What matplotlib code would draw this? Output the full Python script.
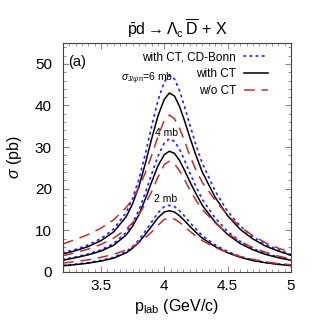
import matplotlib
matplotlib.use("Agg")
import matplotlib.pyplot as plt
from matplotlib.ticker import MultipleLocator

plt.rcParams['font.family'] = ['Liberation Sans', 'DejaVu Sans']
plt.rcParams['mathtext.fontset'] = 'custom'
plt.rcParams['mathtext.rm'] = 'Liberation Sans'
plt.rcParams['mathtext.it'] = 'Liberation Sans:italic'
plt.rcParams['mathtext.sf'] = 'Liberation Sans'

# beam momentum grid (GeV/c)
p_lab = [3.2, 3.3, 3.4, 3.5, 3.6, 3.7, 3.75, 3.8, 3.85, 3.9, 3.95, 4.0, 4.04,
         4.08, 4.12, 4.16, 4.2, 4.25, 4.3, 4.4, 4.5, 4.6, 4.7, 4.8, 4.9, 5.0]

# with CT (solid)
ct_6mb = [4.3, 5.1, 6.1, 7.5, 9.6, 13.3, 16.4, 20.6, 26.0, 32.0, 37.5, 41.5, 43.0,
          42.3, 39.8, 36.3, 32.5, 28.0, 24.0, 18.0, 13.5, 10.2, 7.9, 6.2, 5.0, 4.0]
ct_4mb = [2.8, 3.4, 4.1, 5.0, 6.4, 8.9, 11.0, 13.8, 17.5, 21.6, 25.5, 28.2, 29.0,
          28.5, 26.8, 24.4, 21.8, 18.8, 16.0, 12.0, 9.0, 6.8, 5.3, 4.2, 3.4, 2.8]
ct_2mb = [1.45, 1.75, 2.1, 2.6, 3.3, 4.6, 5.7, 7.1, 9.0, 11.0, 13.0, 14.4, 14.7,
          14.4, 13.5, 12.3, 11.0, 9.5, 8.1, 6.1, 4.6, 3.5, 2.7, 2.2, 1.8, 1.5]

# with CT, CD-Bonn (dotted)
bonn_6mb = [4.6, 5.4, 6.5, 8.0, 10.3, 14.3, 17.7, 22.3, 28.3, 35.0, 41.2, 45.7, 47.2,
            46.4, 43.6, 39.7, 35.5, 30.5, 26.1, 19.5, 14.5, 11.0, 8.4, 6.6, 5.3, 4.2]
bonn_4mb = [3.0, 3.6, 4.3, 5.3, 6.8, 9.5, 11.8, 14.9, 19.0, 23.5, 27.8, 31.0, 32.0,
            31.4, 29.5, 26.8, 23.9, 20.5, 17.4, 13.0, 9.7, 7.3, 5.6, 4.4, 3.6, 2.9]
bonn_2mb = [1.55, 1.85, 2.2, 2.75, 3.5, 4.9, 6.1, 7.7, 9.8, 12.0, 14.2, 15.7, 16.0,
            15.7, 14.7, 13.4, 11.9, 10.3, 8.7, 6.5, 4.9, 3.7, 2.8, 2.3, 1.9, 1.6]

# w/o CT (dashed)
noct_6mb = [6.7, 7.8, 9.0, 10.5, 12.5, 15.5, 17.5, 20.3, 23.8, 28.0, 32.5, 36.5, 37.7,
            36.8, 34.5, 31.5, 28.0, 24.5, 21.5, 17.3, 13.6, 10.8, 8.7, 7.0, 5.7, 4.7]
noct_4mb = [3.9, 4.6, 5.5, 6.6, 8.1, 10.3, 11.8, 13.8, 16.3, 19.3, 22.8, 25.8, 26.6,
            26.0, 24.3, 22.2, 19.8, 17.2, 15.0, 11.8, 9.2, 7.3, 5.8, 4.7, 3.8, 3.1]
noct_2mb = [2.1, 2.5, 2.9, 3.5, 4.2, 5.3, 6.0, 7.0, 8.2, 9.6, 11.2, 12.6, 13.0,
            12.7, 11.9, 10.9, 9.8, 8.6, 7.5, 5.9, 4.6, 3.7, 3.0, 2.4, 2.0, 1.7]

blue = '#2a2aff'
red = '#b83232'

fig = plt.figure(figsize=(3.18, 3.34), dpi=100)
ax = fig.add_axes([0.198, 0.186, 0.717, 0.685])

dot_style = dict(color=blue, lw=1.3, linestyle=(0, (0.8, 2.6)), dash_capstyle='round')
dash_style = dict(color=red, lw=1.1, linestyle=(0, (7, 4.5)))
solid_style = dict(color='black', lw=1.1)

ax.plot(p_lab, bonn_6mb, label='with CT, CD-Bonn', **dot_style)
ax.plot(p_lab, bonn_4mb, **dot_style)
ax.plot(p_lab, bonn_2mb, **dot_style)
ax.plot(p_lab, ct_6mb, label='with CT', **solid_style)
ax.plot(p_lab, ct_4mb, **solid_style)
ax.plot(p_lab, ct_2mb, **solid_style)
ax.plot(p_lab, noct_6mb, label='w/o CT', **dash_style)
ax.plot(p_lab, noct_4mb, **dash_style)
ax.plot(p_lab, noct_2mb, **dash_style)

ax.set_xlim(3.2, 5)
ax.set_ylim(0, 55)
ax.xaxis.set_major_locator(MultipleLocator(0.5))
ax.xaxis.set_minor_locator(MultipleLocator(0.05))
ax.yaxis.set_major_locator(MultipleLocator(10))
ax.yaxis.set_minor_locator(MultipleLocator(2))
ax.set_xticks([3.5, 4, 4.5, 5])
ax.set_xticklabels(['3.5', '4', '4.5', '5'])
ax.tick_params(which='both', direction='in', top=True, right=True, color='#888888',
               labelsize=11)
ax.tick_params(axis='x', which='major', pad=5)
ax.tick_params(axis='y', which='major', pad=8)
ax.tick_params(which='major', length=4)
ax.tick_params(which='minor', length=2)
for s in ax.spines.values():
    s.set_color('#444444')
    s.set_linewidth(0.8)

ax.set_xlabel(r'p$_{\mathrm{lab}}$ (GeV/c)', fontsize=11.5, labelpad=3)
ax.set_ylabel(r'$\sigma$ (pb)', fontsize=11.5, labelpad=8)
ax.set_title(r'$\bar{\mathrm{p}}\mathrm{d} \rightarrow \Lambda_{\mathrm{c}}\,\overline{\mathrm{D}}$ + X',
             fontsize=11.5, pad=6)

ax.legend(loc='upper right', bbox_to_anchor=(0.935, 1.0), frameon=False,
          markerfirst=False, fontsize=8.5, handlelength=2.0, handletextpad=0.7,
          labelspacing=0.42, borderaxespad=0.3)

ax.text(3.24, 50.5, '(a)', fontsize=10.5, va='center')
ax.text(3.655, 46.4, r'$\sigma_{\mathrm{J}/\psi\mathrm{n}}$=6 mb', fontsize=7.5, va='center')
ax.text(4.02, 33.3, '4 mb', fontsize=7.5, ha='center', va='center')
ax.text(4.01, 17.6, '2 mb', fontsize=7.5, ha='center', va='center')

fig.savefig('out.png', dpi=100)
